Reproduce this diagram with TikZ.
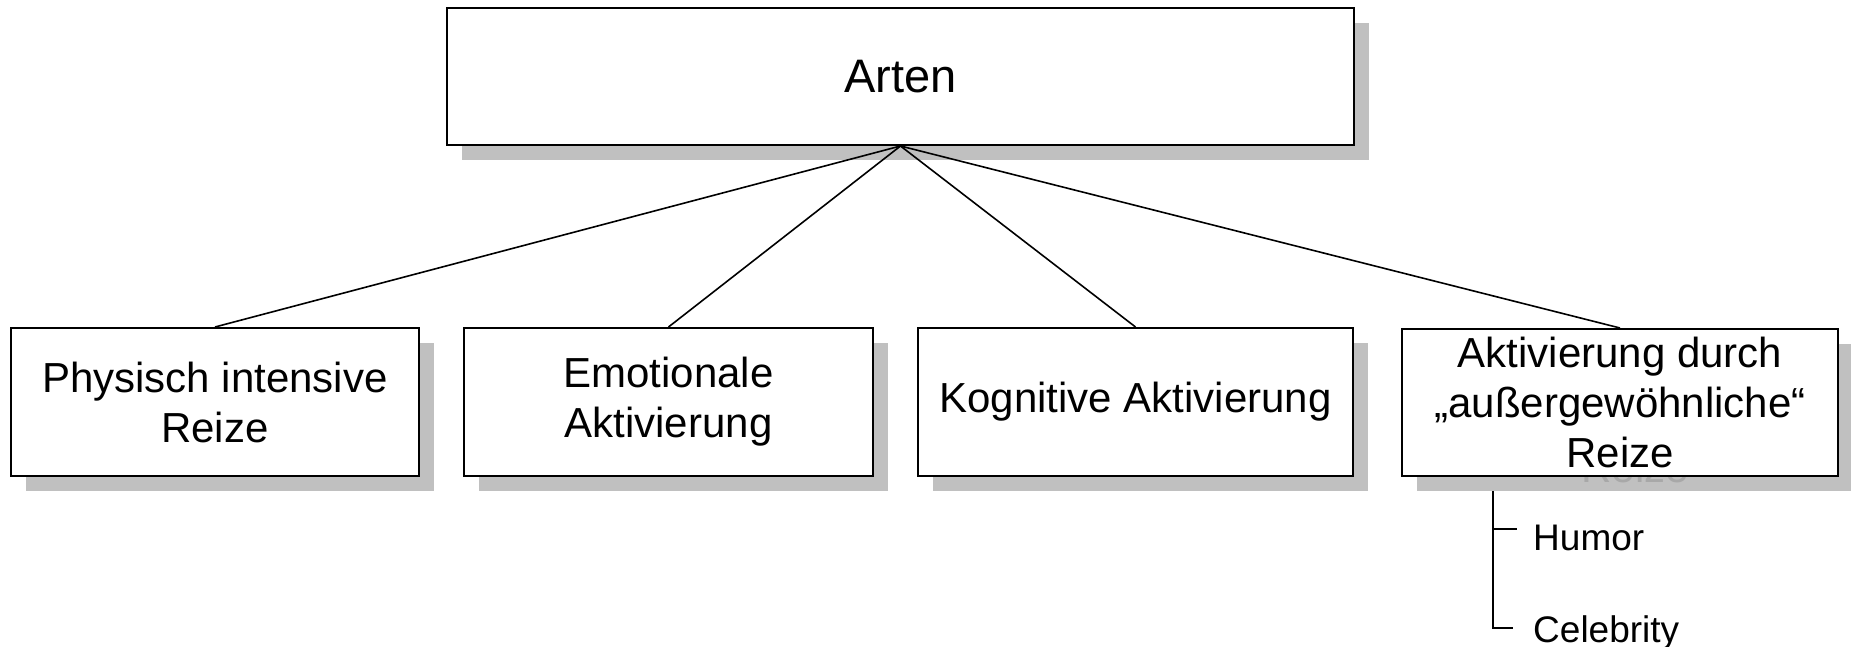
\documentclass[tikz,border=0pt]{standalone}
\usepackage{fontspec}
\setmainfont{Liberation Sans}
\definecolor{shadowfill}{HTML}{C0C0C0}
\definecolor{shadowtext}{HTML}{A8A8A8}
\tikzset{
  box/.style={draw=black, line width=2pt, fill=white, rectangle, inner sep=0pt,
    align=center, font=\fontsize{42}{50}\selectfont},
  shadowcopy/.style={fill=shadowfill, text=shadowtext, rectangle, inner sep=0pt,
    align=center, font=\fontsize{42}{50}\selectfont},
  link/.style={line width=1.6pt, draw=black},
  subitem/.style={inner sep=0pt, anchor=base west, font=\fontsize{37}{44}\selectfont},
}
% box over a gray copy of itself set 15 units down and right;
% the last argument is the text of the copy (phantoms where it is hidden)
\newcommand\shadowbox[8][]{% [extra], name, x, y, width, height, text, shadow text
  \node[shadowcopy, minimum width=#5, minimum height=#6, #1] at ({#3+15},{#4+15}) {#8};
  \node[box, minimum width=#5, minimum height=#6, #1] (#2) at (#3,#4) {#7};
}
\begin{document}
\begin{tikzpicture}[x=1pt, y=-1pt]
  \useasboundingbox (0,0) rectangle (1851,647);

  \shadowbox[font=\fontsize{47}{56}\selectfont]{arten}{900.5}{76.5}{907pt}{137pt}
    {Arten}{}
  \shadowbox{physisch}{215}{402}{408pt}{148pt}
    {Physisch intensive\\Reize}{}
  \shadowbox{emotional}{668.5}{402}{409pt}{148pt}
    {Emotionale\\Aktivierung}{}
  \shadowbox{kognitiv}{1135.5}{402}{435pt}{148pt}
    {Kognitive Aktivierung}{}
  \shadowbox{aussergew}{1620}{402.5}{436pt}{147pt}
    {Aktivierung durch\\„außergewöhnliche“\\Reize}
    {\phantom{Aktivierung durch}\\\phantom{„außergewöhnliche“}\\Reize}

  \draw[link] (arten.south) -- (physisch.north);
  \draw[link] (arten.south) -- (emotional.north);
  \draw[link] (arten.south) -- (kognitiv.north);
  \draw[link] (arten.south) -- (aussergew.north);

  % bracket listing examples below the fourth box
  \node[subitem] (humor) at (1533,550) {Humor};
  \node[subitem] (celebrity) at (1533,642) {Celebrity};
  \coordinate (stemtop) at (1493,491);
  \coordinate (stemhumor) at (1493,529);
  \coordinate (tickhumor) at (1517,529);
  \coordinate (tickceleb) at (1513,628);
  \draw[link] (stemtop) |- (tickceleb);
  \draw[link] (stemhumor) -- (tickhumor);
\end{tikzpicture}
\end{document}
